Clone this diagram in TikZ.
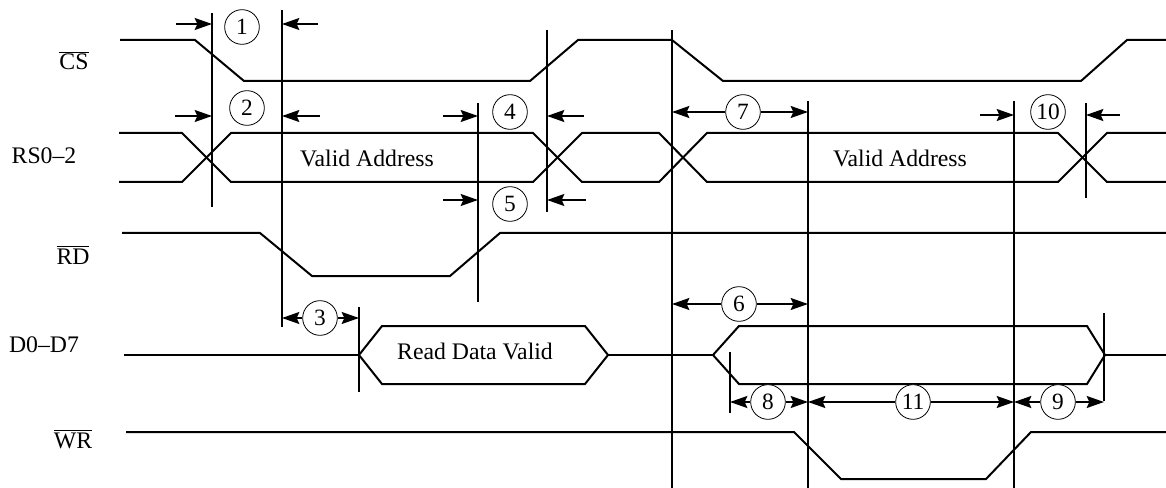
\documentclass[tikz,border=0pt]{standalone}
\usepackage{fontspec}
\setmainfont{Liberation Serif}
\usetikzlibrary{arrows.meta,calc}
\begin{document}
\begin{tikzpicture}[x=0.75pt,y=-0.75pt,
  sig/.style={line width=1.5pt,line join=miter},
  vline/.style={line width=1.4pt},
  arr/.style={line width=1.2pt,-{Stealth[length=13pt,width=9pt,inset=2pt]}},
  num/.style={draw,circle,line width=0.6pt,minimum size=26pt,inner sep=0pt,fill=white,font=\fontsize{17.5}{18}\selectfont},
  lbl/.style={font=\fontsize{17.8}{20}\selectfont,anchor=base,inner sep=0pt},
  txt/.style={font=\fontsize{17.8}{20}\selectfont,anchor=base,inner sep=0pt}]
\useasboundingbox (0,0) rectangle (1166,488);

% signal labels
\node[lbl] (lcs) at (74,70) {$\overline{\mbox{CS}}$};
\node[lbl] (lrs) at (44,164) {RS0--2};
\node[lbl] (lrd) at (73,264) {$\overline{\mbox{RD}}$};
\node[lbl] (ld) at (44,352) {D0--D7};
\node[lbl] (lwr) at (73,448) {$\overline{\mbox{WR}}$};

% CS
\draw[sig] (120,40) -- (195,40) -- (244,81) -- (530,81) -- (578,40) -- (672,40) -- (723,81) -- (1081,81) -- (1127,40) -- (1166,40);
% RS0-2
\draw[sig] (119,133) -- (182,133) -- (231,182) -- (533,182) -- (582,133) -- (659,133) -- (707,182) -- (1058,182) -- (1107,133) -- (1166,133);
\draw[sig] (119,182) -- (182,182) -- (231,133) -- (533,133) -- (582,182) -- (659,182) -- (707,133) -- (1058,133) -- (1107,182) -- (1166,182);
\node[txt] (va1) at (367,167) {Valid Address};
\node[txt] (va2) at (900,167) {Valid Address};
% RD
\draw[sig] (122,233) -- (260,233) -- (312,276) -- (450,276) -- (500,233) -- (1166,233);
% D0-D7
\draw[sig] (124,355) -- (359,355);
\draw[sig] (359,355) -- (382,326) -- (585,326) -- (608,355) -- (585,384) -- (382,384) -- cycle;
\draw[sig] (608,355) -- (713,355);
\draw[sig] (713,355) -- (739,326) -- (1087,326) -- (1105,355) -- (1087,384) -- (739,384) -- cycle;
\draw[sig] (1105,355) -- (1166,355);
\node[txt] (rdv) at (475,359) {Read Data Valid};
% WR
\draw[sig] (126,432) -- (794,432) -- (841,479) -- (986,479) -- (1031,432) -- (1166,432);

% vertical timing lines
\coordinate (v1t) at (212,13);  \coordinate (v1b) at (212,207);
\coordinate (v2t) at (282,10);  \coordinate (v2b) at (282,327);
\coordinate (v3t) at (478,103); \coordinate (v3b) at (478,302);
\coordinate (v4t) at (547,30);  \coordinate (v4b) at (547,212);
\coordinate (vdt) at (359,307); \coordinate (vdb) at (359,392);
\coordinate (v6t) at (672,30);  \coordinate (v6b) at (672,488);
\coordinate (v7t) at (808,101); \coordinate (v7b) at (808,488);
\coordinate (vat) at (1014,101);\coordinate (vab) at (1014,488);
\coordinate (vbt) at (1086,103);\coordinate (vbb) at (1086,198);
\coordinate (v8t) at (730,352); \coordinate (v8b) at (730,413);
\coordinate (v9t) at (1104,313);\coordinate (v9b) at (1104,401);
\foreach \a in {v1,v2,v3,v4,vd,v6,v7,va,vb,v8,v9}
  \draw[vline] (\a t) -- (\a b);

% numbered circles
\node[num] (c1) at (242,27) {1};
\node[num] (c2) at (247,108) {2};
\node[num] (c3) at (320,318) {3};
\node[num] (c4) at (510,112) {4};
\node[num] (c5) at (510,204) {5};
\node[num] (c6) at (739,304) {6};
\node[num] (c7) at (743,112) {7};
\node[num] (c8) at (768,402) {8};
\node[num] (c9) at (1058,402) {9};
\node[num] (c10) at (1048,112) {10};
\node[num] (c11) at (913,402) {11};

% outside arrows
\coordinate (a1l) at (176,24);  \coordinate (a1r) at (318,24);
\coordinate (a2l) at (175,116); \coordinate (a2r) at (320,116);
\coordinate (a4l) at (443,116); \coordinate (a4r) at (584,116);
\coordinate (a5l) at (443,200); \coordinate (a5r) at (586,200);
\coordinate (a10l) at (980,115);\coordinate (a10r) at (1120,115);
\draw[arr] (a1l) -- (a1l -| v1t);
\draw[arr] (a1r) -- (a1r -| v2t);
\draw[arr] (a2l) -- (a2l -| v1t);
\draw[arr] (a2r) -- (a2r -| v2t);
\draw[arr] (a4l) -- (a4l -| v3t);
\draw[arr] (a4r) -- (a4r -| v4t);
\draw[arr] (a5l) -- (a5l -| v3t);
\draw[arr] (a5r) -- (a5r -| v4t);
\draw[arr] (a10l) -- (a10l -| vat);
\draw[arr] (a10r) -- (a10r -| vbt);

% inside arrows
\draw[arr] (c3.west) -- (c3.west -| v2t);
\draw[arr] (c3.east) -- (c3.east -| vdt);
\draw[arr] (c6.west) -- (c6.west -| v6t);
\draw[arr] (c6.east) -- (c6.east -| v7t);
\draw[arr] (c7.west) -- (c7.west -| v6t);
\draw[arr] (c7.east) -- (c7.east -| v7t);
\draw[arr] (c8.west) -- (c8.west -| v8t);
\draw[arr] (c8.east) -- (c8.east -| v7t);
\draw[arr] (c11.west) -- (c11.west -| v7t);
\draw[arr] (c11.east) -- (c11.east -| vat);
\draw[arr] (c9.west) -- (c9.west -| vat);
\draw[arr] (c9.east) -- (c9.east -| v9t);
\end{tikzpicture}
\end{document}
